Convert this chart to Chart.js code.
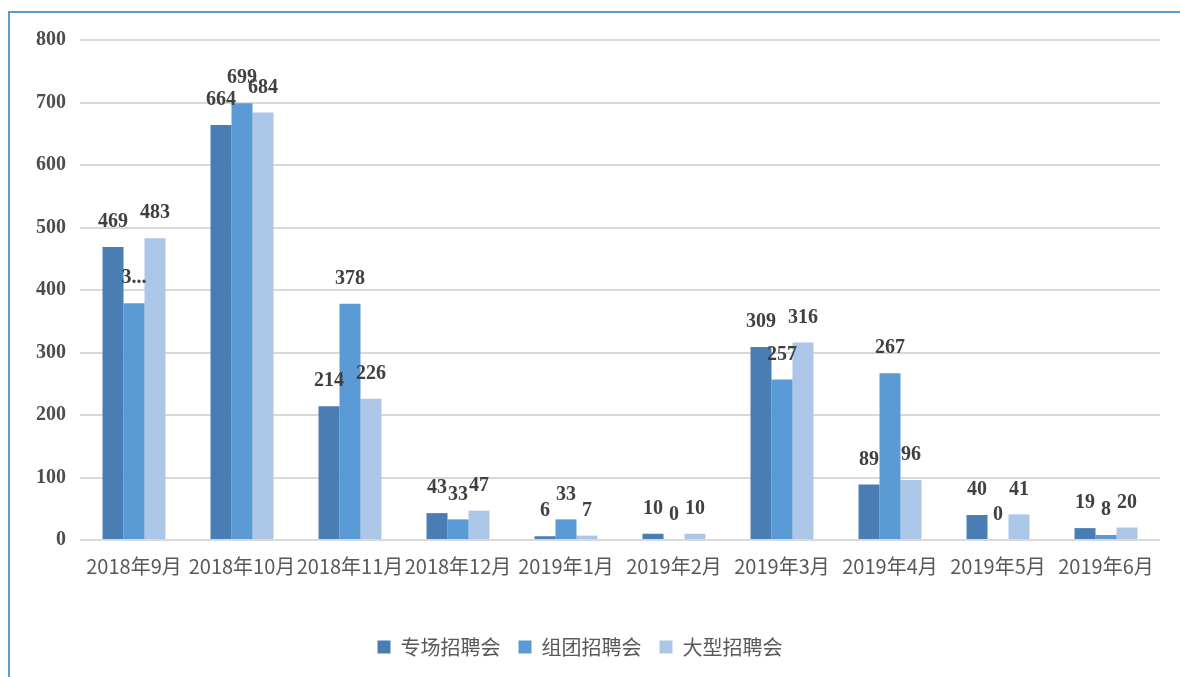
<!DOCTYPE html>
<html>
<head>
<meta charset="utf-8">
<script src="https://cdn.jsdelivr.net/npm/chart.js@4.4.0/dist/chart.umd.min.js"></script>
<style>
html,body{margin:0;padding:0;background:#fff;}
#wrap{position:relative;width:1180px;height:677px;}
canvas{display:block;}
</style>
</head>
<body>
<div id="wrap"><canvas id="c" width="1180" height="677"></canvas></div>
<script>
const categories = ['2018年9月','2018年10月','2018年11月','2018年12月','2019年1月','2019年2月','2019年3月','2019年4月','2019年5月','2019年6月'];
const seriesNames = ['专场招聘会','组团招聘会','大型招聘会'];
const zhuanchang = [469, 664, 214, 43, 6, 10, 309, 89, 40, 19];
const zutuan = [379, 699, 378, 33, 33, 0, 257, 267, 0, 8];
const daxing = [483, 684, 226, 47, 7, 10, 316, 96, 41, 20];
const yTicks = [0, 100, 200, 300, 400, 500, 600, 700, 800];
// labels shown truncated in the source (series index -> category indices)
const truncatedLabels = {1: [0]};

const colors = ['#4a7db3', '#5b9bd5', '#abc6e7'];

const frame = {
  id: 'frame',
  afterDraw(chart) {
    const ctx = chart.ctx;
    ctx.save();
    ctx.strokeStyle = '#5b9bd5';
    ctx.lineWidth = 2;
    ctx.beginPath();
    ctx.moveTo(9, 677);
    ctx.lineTo(9, 12);
    ctx.lineTo(1180, 12);
    ctx.stroke();
    ctx.restore();
  }
};

const dataLabels = {
  id: 'dataLabels',
  afterDatasetsDraw(chart) {
    const ctx = chart.ctx;
    ctx.save();
    ctx.font = 'bold 20px "Liberation Serif", "Times New Roman", serif';
    ctx.fillStyle = '#404040';
    ctx.textAlign = 'center';
    ctx.textBaseline = 'bottom';
    chart.data.datasets.forEach((ds, di) => {
      const meta = chart.getDatasetMeta(di);
      meta.data.forEach((bar, i) => {
        let txt = String(ds.data[i]);
        if (truncatedLabels[di] && truncatedLabels[di].includes(i)) txt = txt.charAt(0) + '...';
        ctx.fillText(txt, bar.x, bar.y - 15);
      });
    });
    ctx.restore();
  }
};

new Chart(document.getElementById('c'), {
  type: 'bar',
  data: {
    labels: categories,
    datasets: [
      {label: seriesNames[0], data: zhuanchang, backgroundColor: colors[0]},
      {label: seriesNames[1], data: zutuan, backgroundColor: colors[1]},
      {label: seriesNames[2], data: daxing, backgroundColor: colors[2]}
    ]
  },
  options: {
    responsive: false,
    animation: false,
    devicePixelRatio: 1,
    layout: {padding: {left: 0, right: 20, top: 40, bottom: 10}},
    datasets: {bar: {categoryPercentage: 0.583, barPercentage: 1.0}},
    scales: {
      x: {
        grid: {display: false},
        border: {display: false},
        ticks: {
          color: '#595959',
          font: {family: '"Noto Sans CJK SC", sans-serif', size: 20},
          padding: 6,
          maxRotation: 0,
          autoSkip: false
        },
        afterFit(s) { s.height = 79; }
      },
      y: {
        min: 0, max: 800,
        afterBuildTicks(s) { s.ticks = yTicks.map(v => ({value: v})); },
        grid: {color: '#d9d9d9', lineWidth: 2, drawTicks: false},
        border: {display: false},
        ticks: {
          color: '#4d4d4d',
          font: {family: '"Liberation Serif", "Times New Roman", serif', size: 20, weight: 'bold'},
          padding: 14
        },
        afterFit(s) { s.width = 80; }
      }
    },
    plugins: {
      legend: {
        position: 'bottom',
        labels: {
          boxWidth: 13, boxHeight: 13,
          padding: 18,
          color: '#595959',
          font: {family: '"Noto Sans CJK SC", sans-serif', size: 20}
        }
      },
      tooltip: {enabled: false}
    }
  },
  plugins: [frame, dataLabels]
});
</script>
</body>
</html>
